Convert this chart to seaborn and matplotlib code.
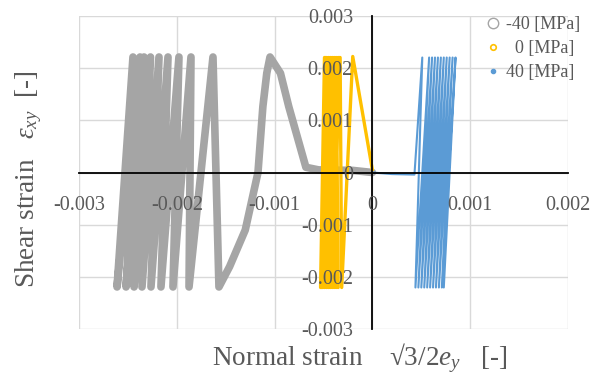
import matplotlib
matplotlib.use("Agg")
import matplotlib.pyplot as plt
from matplotlib.lines import Line2D
import seaborn as sns

# ---------------- data (turning points) ----------------
gray_x = [0.0, -0.0002, -0.00055, -0.00068, -0.000855, -0.00094, -0.001047, -0.00108,
          -0.00112, -0.00117, -0.0013, -0.00146, -0.001569, -0.00163, -0.001875,
          -0.001855, -0.002039, -0.001978, -0.002162, -0.00209, -0.002264, -0.002182,
          -0.002356, -0.002269, -0.002437, -0.002335, -0.002519, -0.002376, -0.002611,
          -0.002448]
gray_y = [0.0, 0.00004, 0.00005, 0.0001, 0.00126, 0.0019, 0.00221, 0.0019,
          0.00126, 0.0, -0.0011, -0.0018, -0.00219, 0.00221, -0.00219,
          0.00221, -0.00219, 0.00221, -0.00219, 0.00221, -0.00219, 0.00221,
          -0.00219, 0.00221, -0.00219, 0.00221, -0.00219, 0.00221, -0.00219,
          0.00221]

yellow_x = [0.0, -0.000201, -0.000314, -0.00033, -0.00053, -0.00049, -0.00035, -0.00037,
            -0.00051, -0.00045, -0.00039, -0.00041, -0.00047, -0.00047, -0.00043,
            -0.00035, -0.00049, -0.00043, -0.00037, -0.00039, -0.00045, -0.00048,
            -0.00041, -0.00034, -0.00052]
yellow_y = [0.00005, 0.00222, -0.0022, 0.0022, -0.0022, 0.0022, -0.0022, 0.0022,
            -0.0022, 0.0022, -0.0022, 0.0022, -0.0022, 0.0022, -0.0022,
            0.0022, -0.0022, 0.0022, -0.0022, 0.0022, -0.0022, 0.0022,
            -0.0022, 0.0022, -0.0022]

blue_x = [0.0, 0.0002, 0.00043, 0.00051, 0.00044, 0.00058, 0.00047, 0.00061, 0.0005,
          0.00064, 0.00053, 0.00067, 0.00056, 0.0007, 0.00059, 0.00073, 0.00062,
          0.00076, 0.00065, 0.00079, 0.00068, 0.00082, 0.00071, 0.00085, 0.00073]
blue_y = [0.0, -0.00003, -0.00004, 0.0022, -0.0022, 0.0022, -0.0022, 0.0022, -0.0022,
          0.0022, -0.0022, 0.0022, -0.0022, 0.0022, -0.0022, 0.0022, -0.0022,
          0.0022, -0.0022, 0.0022, -0.0022, 0.0022, -0.0022, 0.0022, -0.0022]

series_labels = ["-40 [MPa]", "  0 [MPa]", "40 [MPa]"]
x_ticks = [-0.003, -0.002, -0.001, 0.0, 0.001, 0.002]
x_tick_labels = ["-0.003", "-0.002", "-0.001", "0", "0.001", "0.002"]
y_ticks = [-0.003, -0.002, -0.001, 0.0, 0.001, 0.002, 0.003]
y_tick_labels = ["-0.003", "-0.002", "-0.001", "0", "0.001", "0.002", "0.003"]

# ---------------- style ----------------
sns.set_style("white")
plt.rcParams['font.family'] = ['Liberation Serif', 'DejaVu Serif']
plt.rcParams['mathtext.fontset'] = 'custom'
plt.rcParams['mathtext.rm'] = 'Liberation Serif'
plt.rcParams['mathtext.it'] = 'Liberation Serif:italic'

GRAY = '#A5A5A5'
YELLOW = '#FFC000'
BLUE = '#5B9BD5'
TXT = '#595959'
GRID = '#D9D9D9'

fig = plt.figure(figsize=(6.03, 3.74), dpi=100)
ax = fig.add_axes([79 / 603, 1 - 329.3 / 374, (568 - 79) / 603, (329.3 - 15.7) / 374])

# gridlines (below the data)
for xv in x_ticks:
    ax.axvline(xv, color=GRID, linewidth=1.0, zorder=0.5)
for yv in y_ticks:
    ax.axhline(yv, color=GRID, linewidth=1.0, zorder=0.5)

sns.lineplot(x=gray_x, y=gray_y, sort=False, estimator=None, color=GRAY,
             linewidth=5.5, ax=ax, zorder=2.0, solid_joinstyle='round', solid_capstyle='round')
sns.lineplot(x=yellow_x, y=yellow_y, sort=False, estimator=None, color=YELLOW,
             linewidth=2.4, ax=ax, zorder=2.1)
sns.lineplot(x=blue_x, y=blue_y, sort=False, estimator=None, color=BLUE,
             linewidth=1.5, ax=ax, zorder=2.2)

ax.set_xlim(-0.003, 0.002)
ax.set_ylim(-0.003, 0.003)
ax.set_xticks(x_ticks)
ax.set_xticklabels(x_tick_labels)
ax.set_yticks(y_ticks)
ax.set_yticklabels(y_tick_labels)
ax.grid(False)
ax.set_axisbelow(False)

for s in ['top', 'right']:
    ax.spines[s].set_visible(False)
ax.spines['left'].set_position(('data', 0))
ax.spines['bottom'].set_position(('data', 0))
for s in ['left', 'bottom']:
    ax.spines[s].set_color('#000000')
    ax.spines[s].set_linewidth(1.3)
    ax.spines[s].set_zorder(2.5)
ax.tick_params(axis='both', length=0, labelsize=14.5, labelcolor=TXT)
ax.tick_params(axis='y', pad=14)
ax.tick_params(axis='x', pad=17)
ax.set_xlabel("")
ax.set_ylabel("")

fig.text(212 / 603, 1 - 365 / 374, "Normal strain    √3/2$e_y$   [-]",
         ha='left', va='baseline', fontsize=19.5, color=TXT)
fig.text(29 / 603, 1 - 179.5 / 374, "Shear strain   $\\varepsilon_{xy}$  [-]",
         ha='center', va='center', rotation=90, fontsize=19.5, color=TXT)

handles = [
    Line2D([], [], linestyle='none', marker='o', markersize=7.5, markerfacecolor='none',
           markeredgecolor=GRAY, markeredgewidth=1.0),
    Line2D([], [], linestyle='none', marker='o', markersize=4, markerfacecolor='none',
           markeredgecolor=YELLOW, markeredgewidth=1.2),
    Line2D([], [], linestyle='none', marker='o', markersize=3, markerfacecolor=BLUE,
           markeredgecolor=BLUE),
]
leg = fig.legend(handles, series_labels, loc='upper left',
                 bbox_to_anchor=(486 / 603, 1 - 16 / 374), frameon=False,
                 fontsize=13, handlelength=0.8, handletextpad=0.3,
                 labelspacing=0.4, borderpad=0, borderaxespad=0)
for t in leg.get_texts():
    t.set_color(TXT)

fig.savefig("out.png", dpi=100)
